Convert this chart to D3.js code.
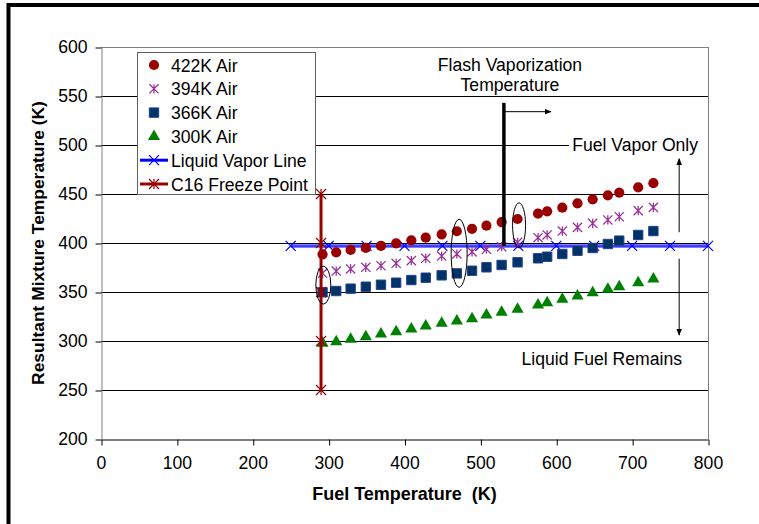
<!DOCTYPE html>
<html>
<head>
<meta charset="utf-8">
<script src="https://cdn.jsdelivr.net/npm/d3@7"></script>
<style>
  body { margin: 0; background: #fff; }
  text { font-family: Arial, "Liberation Sans", sans-serif; }
</style>
</head>
<body>
<svg id="chart"></svg>
<script>
// fuel temperature (K) for every mixture point
const fuelTemps = [292, 310, 329, 349, 369, 389, 409, 428, 449, 469, 489, 508, 528, 549, 576, 588, 608, 628, 648, 668, 683, 708, 728];
// resultant mixture temperature (K) per air temperature
const air422 = [388.5, 390.5, 392.9, 395, 397, 399.7, 402.7, 405.4, 408.9, 412, 414.5, 417.7, 421.4, 424.5, 430, 432.3, 436, 440.5, 444.6, 448.6, 451.3, 456.8, 461];
const air394 = [369.1, 371.4, 373.5, 375.2, 376.8, 379.3, 382, 384.4, 386.7, 388.8, 391, 393.6, 396.2, 400.7, 405.4, 408.2, 412.2, 416, 420.1, 423.5, 426.8, 433, 436.4];
const air366 = [349.7, 351, 353.4, 355.4, 357.4, 359.5, 362.2, 364.6, 367, 369, 371.7, 375.2, 377.6, 380.3, 384.4, 386, 388.8, 392.1, 394.9, 399, 402.4, 408.2, 412.2];
const air300 = [297.6, 299.3, 301.7, 304.4, 307.1, 309.5, 312.2, 315.3, 318.1, 320.4, 322.8, 326.5, 329.3, 332.3, 336.7, 339, 342.6, 345.9, 349.3, 352.8, 355.4, 359.5, 363.3];

// liquid vapor line
const vaporX = [250, 300, 350, 400, 450, 500, 550, 600, 650, 700, 750, 800];
const vaporTemp = 397;

// C16 freeze point
const freezeX = 290;
const freezeY = [250, 300, 350, 400, 450];

const xTicks = [0, 100, 200, 300, 400, 500, 600, 700, 800];
const yTicks = [200, 250, 300, 350, 400, 450, 500, 550, 600];

const seriesNames = ["422K Air", "394K Air", "366K Air", "300K Air", "Liquid Vapor Line", "C16 Freeze Point"];

const width = 759, height = 524;
const plot = { left: 101, right: 708, top: 47, bottom: 439 };
const fs = 17.6;

const svg = d3.select("#chart").attr("width", width).attr("height", height);

const x = d3.scaleLinear().domain([0, 800]).range([plot.left, plot.right]);
const y = d3.scaleLinear().domain([200, 600]).range([plot.bottom, plot.top]);

// outer frame (right/bottom edges fall outside the picture)
svg.append("rect")
    .attr("x", 8.5).attr("y", 5)
    .attr("width", 800).attr("height", 600)
    .attr("fill", "none").attr("stroke", "#000").attr("stroke-width", 4);

svg.append("defs").append("marker")
    .attr("id", "arrow")
    .attr("viewBox", "0 0 10 10")
    .attr("refX", 9).attr("refY", 5)
    .attr("markerWidth", 7).attr("markerHeight", 7)
    .attr("orient", "auto")
    .append("path").attr("d", "M0,1L10,5L0,9Z").attr("fill", "#000");

// gridlines
svg.append("g")
    .selectAll("line")
    .data(yTicks.filter(d => d > 200 && d < 600))
    .join("line")
    .attr("x1", plot.left).attr("x2", plot.right)
    .attr("y1", d => y(d) + 0.5).attr("y2", d => y(d) + 0.5)
    .attr("stroke", "#000").attr("stroke-width", 1);

// plot frame: top and right in gray
const frame = svg.append("g").attr("stroke", "#808080").attr("stroke-width", 1);
frame.append("line").attr("x1", plot.left).attr("x2", plot.right).attr("y1", plot.top + 0.5).attr("y2", plot.top + 0.5);
frame.append("line").attr("x1", plot.right + 0.5).attr("x2", plot.right + 0.5).attr("y1", plot.top).attr("y2", plot.bottom);

// axes
const xAxis = svg.append("g")
    .attr("transform", `translate(0,${plot.bottom + 0.5})`)
    .call(d3.axisBottom(x).tickValues(xTicks).tickSize(6).tickPadding(11).tickSizeOuter(0));
xAxis.select(".domain").attr("stroke", "#000");
xAxis.selectAll(".tick line").attr("stroke", "#000").attr("transform", "translate(0.5,0)");
xAxis.selectAll("text").attr("font-size", fs).attr("fill", "#000").attr("font-family", "Arial, 'Liberation Sans', sans-serif");

const yAxis = svg.append("g")
    .attr("transform", `translate(${plot.left + 0.5},0)`)
    .call(d3.axisLeft(y).tickValues(yTicks).tickSize(6).tickPadding(8).tickSizeOuter(0));
yAxis.select(".domain").attr("stroke", "#808080");
yAxis.selectAll(".tick line").attr("stroke", "#000").attr("transform", "translate(0,0.5)");
yAxis.selectAll("text").attr("font-size", fs).attr("fill", "#000").attr("font-family", "Arial, 'Liberation Sans', sans-serif");

// axis titles
svg.append("text")
    .attr("x", (plot.left + plot.right) / 2).attr("y", 500)
    .attr("text-anchor", "middle")
    .attr("font-size", 18).attr("font-weight", "bold")
    .style("white-space", "pre")
    .text("Fuel Temperature  (K)");

svg.append("text")
    .attr("transform", `translate(44,${(plot.top + plot.bottom) / 2}) rotate(-90)`)
    .attr("text-anchor", "middle")
    .attr("font-size", 17.4).attr("font-weight", "bold")
    .text("Resultant Mixture Temperature (K)");

// marker shapes
const starPath = s => `M${-s},${-s}L${s},${s}M${-s},${s}L${s},${-s}M0,${-s}L0,${s}`;
const xPath = s => `M${-s},${-s}L${s},${s}M${-s},${s}L${s},${-s}`;

function styleMarker(sel, kind) {
    if (kind === "circle") {
        sel.attr("d", d3.symbol(d3.symbolCircle, 82)).attr("fill", "#990000");
    } else if (kind === "star") {
        sel.attr("d", starPath(4.6)).attr("fill", "none").attr("stroke", "#993399").attr("stroke-width", 1.3);
    } else if (kind === "square") {
        sel.attr("d", d3.symbol(d3.symbolSquare, 88)).attr("fill", "#003366").attr("stroke", "#24408f").attr("stroke-width", 1);
    } else if (kind === "triangle") {
        sel.attr("d", d3.symbol(d3.symbolTriangle, 64)).attr("fill", "#008000");
    }
}

function drawPoints(g, values, kind) {
    const pts = fuelTemps.map((f, i) => [f, values[i]]);
    const sel = g.append("g").selectAll("path").data(pts).join("path")
        .attr("transform", d => `translate(${x(d[0])},${y(d[1])})`);
    styleMarker(sel, kind);
}

// liquid vapor line
const line = d3.line().x(d => x(d[0])).y(d => y(d[1]));
const vaporPts = vaporX.map(v => [v, vaporTemp]);
svg.append("path").attr("d", line(vaporPts)).attr("fill", "none").attr("stroke", "#0000ff").attr("stroke-width", 3);
svg.append("path").attr("d", line(vaporPts)).attr("fill", "none").attr("stroke", "#7f7fff").attr("stroke-width", 1);
svg.append("g").selectAll("path").data(vaporPts).join("path")
    .attr("transform", d => `translate(${x(d[0])},${y(d[1])})`)
    .attr("d", xPath(5)).attr("fill", "none").attr("stroke", "#0000ff").attr("stroke-width", 1.2);

const marks = svg.append("g");
drawPoints(marks, air422, "circle");
drawPoints(marks, air394, "star");
drawPoints(marks, air366, "square");
drawPoints(marks, air300, "triangle");

// freeze point line
const freezePts = freezeY.map(v => [freezeX, v]);
svg.append("path").attr("d", line([[freezeX, d3.min(freezeY)], [freezeX, d3.max(freezeY)]]))
    .attr("stroke", "#990000").attr("stroke-width", 3);
svg.append("g").selectAll("path").data(freezePts).join("path")
    .attr("transform", d => `translate(${x(d[0])},${y(d[1])})`)
    .attr("d", starPath(5)).attr("fill", "none").attr("stroke", "#990000").attr("stroke-width", 1.2);

// annotations
const ann = svg.append("g");
const ellipses = [
    { fx: 293, t: 357, rx: 7.5, ry: 19 },
    { fx: 472, t: 389.5, rx: 8, ry: 34 },
    { fx: 551, t: 418, rx: 6.5, ry: 22.5 }
];
ann.selectAll("ellipse").data(ellipses).join("ellipse")
    .attr("cx", d => x(d.fx)).attr("cy", d => y(d.t))
    .attr("rx", d => d.rx).attr("ry", d => d.ry)
    .attr("fill", "none").attr("stroke", "#000").attr("stroke-width", 1);

ann.append("line")
    .attr("x1", x(531)).attr("x2", x(531)).attr("y1", y(543)).attr("y2", y(397))
    .attr("stroke", "#000").attr("stroke-width", 3.5);
ann.append("line")
    .attr("x1", x(531)).attr("x2", x(593)).attr("y1", y(534)).attr("y2", y(534))
    .attr("stroke", "#000").attr("stroke-width", 1).attr("marker-end", "url(#arrow)");
ann.append("line")
    .attr("x1", x(762)).attr("x2", x(762)).attr("y1", y(411)).attr("y2", y(486))
    .attr("stroke", "#000").attr("stroke-width", 1).attr("marker-end", "url(#arrow)");
ann.append("line")
    .attr("x1", x(762)).attr("x2", x(762)).attr("y1", y(384)).attr("y2", y(306))
    .attr("stroke", "#000").attr("stroke-width", 1).attr("marker-end", "url(#arrow)");

ann.append("text").attr("x", x(539)).attr("y", y(576)).attr("text-anchor", "middle").attr("font-size", fs).text("Flash Vaporization");
ann.append("text").attr("x", x(539)).attr("y", y(555)).attr("text-anchor", "middle").attr("font-size", fs).text("Temperature");

ann.append("rect").attr("x", x(617)).attr("y", y(510)).attr("width", plot.right - x(617)).attr("height", 22).attr("fill", "#fff");
ann.append("text").attr("x", x(704)).attr("y", y(494.2)).attr("text-anchor", "middle").attr("font-size", fs).text("Fuel Vapor Only");
ann.append("text").attr("x", x(660)).attr("y", y(275.5)).attr("text-anchor", "middle").attr("font-size", fs).text("Liquid Fuel Remains");

// legend
const legend = svg.append("g").attr("transform", "translate(137,52)");
legend.append("rect").attr("x", 0.5).attr("y", 0.5).attr("width", 178).attr("height", 142)
    .attr("fill", "#fff").attr("stroke", "#606060").attr("stroke-width", 1);
const rowY = i => 13 + i * 23.8;
const kinds = ["circle", "star", "square", "triangle"];
seriesNames.forEach((name, i) => {
    const row = legend.append("g").attr("transform", `translate(0,${rowY(i)})`);
    if (i < 4) {
        styleMarker(row.append("path").attr("transform", "translate(17,0)"), kinds[i]);
    } else if (i === 4) {
        row.append("line").attr("x1", 3).attr("x2", 31).attr("y1", 0).attr("y2", 0).attr("stroke", "#0000ff").attr("stroke-width", 3);
        row.append("path").attr("transform", "translate(17,0)").attr("d", xPath(5)).attr("fill", "none").attr("stroke", "#0000ff").attr("stroke-width", 1.2);
    } else {
        row.append("line").attr("x1", 3).attr("x2", 31).attr("y1", 0).attr("y2", 0).attr("stroke", "#990000").attr("stroke-width", 3);
        row.append("path").attr("transform", "translate(17,0)").attr("d", starPath(5)).attr("fill", "none").attr("stroke", "#990000").attr("stroke-width", 1.2);
    }
    row.append("text").attr("x", 34).attr("y", 6.5).attr("font-size", fs).text(name);
});
</script>
</body>
</html>
